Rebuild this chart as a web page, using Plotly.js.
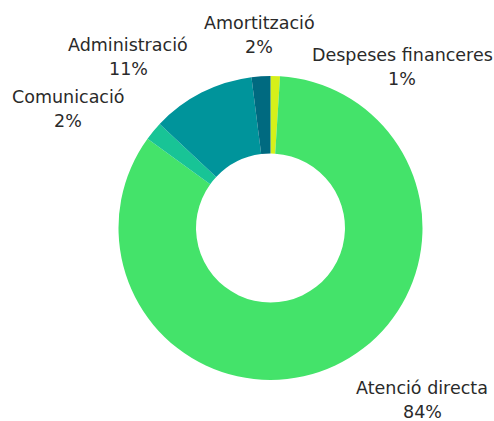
<!DOCTYPE html>
<html>
<head>
<meta charset="utf-8">
<script src="https://cdn.plot.ly/plotly-3.0.1.min.js"></script>
<style>html,body{margin:0;padding:0;background:#fff;}#chart{width:494px;height:421px;}</style>
</head>
<body>
<div id="chart"></div>
<script>
// Data (clockwise from 12 o'clock)
const labels = ["Despeses financeres", "Atenció directa", "Comunicació", "Administració", "Amortització"];
const values = [1, 84, 2, 11, 2];
const percentLabels = ["1%", "84%", "2%", "11%", "2%"];
const colors = ["#D6F01A", "#44E36A", "#18C496", "#00949B", "#006A80"];

// label placement (pixel positions, styling only)
const labelPos = [
  {x: 402, y: 55},
  {x: 422, y: 388},
  {x: 68, y: 97},
  {x: 128, y: 45},
  {x: 259, y: 23}
];
const W = 494, H = 421, lineGap = 24;
const textColor = "#2a2a2a";
const font = "'DejaVu Sans', sans-serif";
const fsize = 17.5;

const annotations = [];
labels.forEach((lab, i) => {
  const p = labelPos[i];
  annotations.push({
    text: lab, x: p.x / W, y: 1 - p.y / H, xref: "paper", yref: "paper",
    xanchor: "center", yanchor: "middle", showarrow: false,
    font: {family: font, size: fsize, color: textColor}
  });
  annotations.push({
    text: percentLabels[i], x: p.x / W, y: 1 - (p.y + lineGap) / H, xref: "paper", yref: "paper",
    xanchor: "center", yanchor: "middle", showarrow: false,
    font: {family: font, size: fsize, color: textColor}
  });
});

const trace = {
  type: "pie",
  labels: labels,
  values: values,
  sort: false,
  direction: "clockwise",
  rotation: 0,
  hole: 0.49,
  textinfo: "none",
  marker: {colors: colors, line: {width: 0}},
  domain: {x: [118 / W, 423 / W], y: [1 - 380 / H, 1 - 76 / H]},
  showlegend: false
};

Plotly.newPlot("chart", [trace], {
  width: W, height: H,
  margin: {l: 0, r: 0, t: 0, b: 0},
  paper_bgcolor: "#ffffff",
  showlegend: false,
  annotations: annotations
}, {displayModeBar: false, staticPlot: true});
</script>
</body>
</html>
